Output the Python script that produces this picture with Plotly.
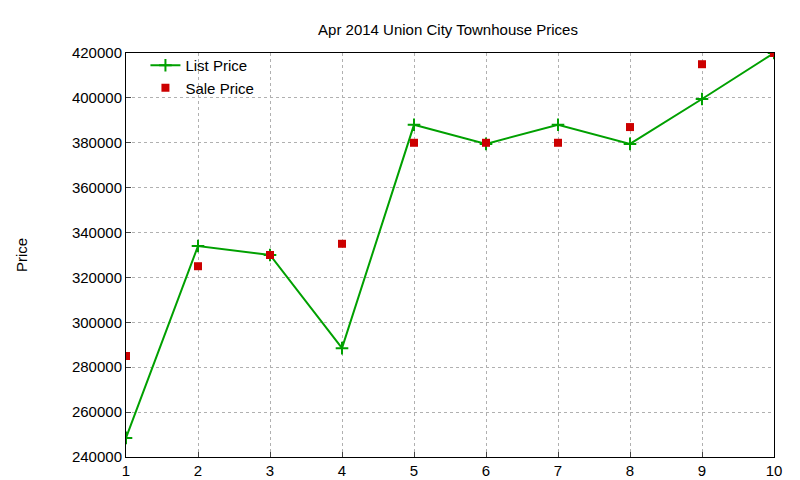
import plotly.graph_objects as go

x = list(range(1, 11))
list_price = [248500, 334000, 330000, 288500, 388000, 379500, 388000, 379500, 399500, 420000]
sale_price = [285000, 325000, 330000, 335000, 380000, 380000, 380000, 387000, 415000, 420000]
y_ticks = list(range(240000, 420001, 20000))

fig = go.Figure()
fig.add_trace(go.Scatter(x=x, y=list_price, name="List Price", mode="lines+markers",
                         line=dict(color="#00a000", width=2),
                         marker=dict(symbol="cross-thin", size=9, line=dict(color="#00a000", width=2))))
fig.add_trace(go.Scatter(x=x, y=sale_price, name="Sale Price", mode="markers",
                         marker=dict(symbol="square", size=8, color="#cc0000")))

axis_common = dict(showline=True, linecolor="black", mirror=True, ticks="inside",
                   showgrid=True, gridcolor="#b0b0b0", griddash="dot", zeroline=False,
                   automargin=False, tickfont=dict(size=15, color="black"))
fig.update_layout(
    width=800, height=480, plot_bgcolor="white", paper_bgcolor="white",
    font=dict(family="Liberation Sans, Arial", color="black"),
    title=dict(text="Apr 2014 Union City Townhouse Prices", x=0.55, y=0.965, xanchor="center",
               font=dict(size=15), automargin=False),
    margin=dict(l=118, r=34, t=45, b=31, autoexpand=False),
    xaxis=dict(range=[1, 10], tickvals=x, **axis_common),
    yaxis=dict(range=[240000, 420000], tickvals=y_ticks, tickformat="d",
               title=dict(text="Price", font=dict(size=15), standoff=40),
               **axis_common),
    legend=dict(x=0.03, y=1.01, xanchor="left", yanchor="top", bgcolor="rgba(0,0,0,0)",
                font=dict(size=15), tracegroupgap=0),
    showlegend=True,
)
fig.write_html("out.html")
